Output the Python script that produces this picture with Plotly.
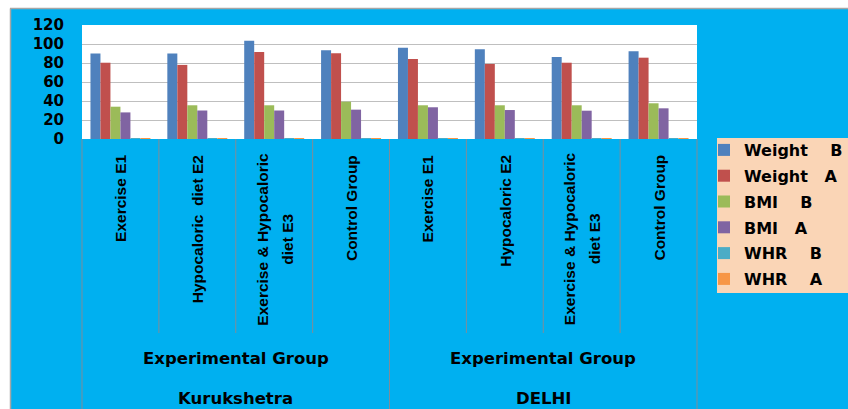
import plotly.graph_objects as go

categories = ["Exercise E1", "Hypocaloric  diet E2", "Exercise & Hypocaloric<br>diet E3", "Control Group",
              "Exercise E1", "Hypocaloric E2", "Exercise & Hypocaloric<br>diet E3", "Control Group"]
subgroups = ["Experimental Group", "Experimental Group"]
locations = ["Kurukshetra", "DELHI"]

S = "\u00a0"
series_names = ["Weight" + S * 4 + "B", "Weight" + S * 3 + "A", "BMI" + S * 4 + "B",
                "BMI" + S * 3 + "A", "WHR" + S * 4 + "B", "WHR" + S * 4 + "A"]
weight_b = [90, 90, 103.5, 93.3, 96, 94.4, 86.3, 92.3]
weight_a = [80.3, 78, 91.6, 90.2, 84.2, 79, 80.3, 85.6]
bmi_b = [34, 35.5, 35.5, 39.3, 35.5, 35.5, 35.5, 37.6]
bmi_a = [28, 30, 30, 30.9, 33.4, 30.5, 29.8, 32.3]
whr_b = [0.95, 0.93, 0.94, 0.92, 0.95, 0.93, 0.94, 0.92]
whr_a = [0.90, 0.88, 0.89, 0.91, 0.89, 0.88, 0.90, 0.91]
colors = ["#4F81BD", "#C0504D", "#9BBB59", "#8064A2", "#4BACC6", "#F79646"]

W, H = 848, 409
L, R, T, B = 82, 151, 25, 270
pw, ph = W - L - R, H - T - B

def px_x(p):
    return (p - L) / pw

def px_y(p):
    return (H - B - p) / ph

n = len(categories)
xs = list(range(n))
fig = go.Figure()
for name, vals, c in zip(series_names, [weight_b, weight_a, bmi_b, bmi_a, whr_b, whr_a], colors):
    fig.add_trace(go.Bar(x=xs, y=vals, name="<b>" + name + "</b>", marker_color=c, marker_line_width=0,
                         legendgroup=name))

shapes = []
# white strips at top and left, and frame lines
shapes.append(dict(type="rect", xref="paper", yref="paper", x0=px_x(-5), x1=px_x(W + 5),
                   y0=px_y(8.5), y1=px_y(-5), fillcolor="white", line_width=0, layer="below"))
shapes.append(dict(type="rect", xref="paper", yref="paper", x0=px_x(-5), x1=px_x(10),
                   y0=px_y(H + 5), y1=px_y(-5), fillcolor="white", line_width=0, layer="below"))
shapes.append(dict(type="line", xref="paper", yref="paper", x0=px_x(10), x1=px_x(W + 5),
                   y0=px_y(8.5), y1=px_y(8.5), line=dict(color="#A6A6A6", width=1.5)))
shapes.append(dict(type="line", xref="paper", yref="paper", x0=px_x(10.5), x1=px_x(10.5),
                   y0=px_y(8.5), y1=px_y(H + 5), line=dict(color="#A6A6A6", width=1.5)))
# legend box
shapes.append(dict(type="rect", xref="paper", yref="paper", x0=px_x(717), x1=px_x(W + 5),
                   y0=px_y(293), y1=px_y(138), fillcolor="#FAD5B6", line_width=0, layer="below"))

# category separators
for i in range(n + 1):
    xp = i / n
    outer = i in (0, n // 2, n)
    shapes.append(dict(type="line", xref="paper", yref="paper", x0=xp, x1=xp,
                       y0=0, y1=px_y(H + 5) if outer else px_y(333),
                       line=dict(color="#7F8C99", width=1)))

cat_font = dict(size=15.5, color="black", family="Liberation Sans, Arial")
annotations = []
for i, cat in enumerate(categories):
    lines = cat.split("<br>")
    k = len(lines)
    for j, ln in enumerate(lines):
        shift = (j - (k - 1) / 2) * 25
        if k == 1:
            yy, ya = px_y(153), "top"
        else:
            yy, ya = px_y(239), "middle"
        annotations.append(dict(x=i, xref="x", y=yy, yref="paper", text="<b>" + ln + "</b>",
                                textangle=-90, showarrow=False, xanchor="center", yanchor=ya,
                                xshift=shift, font=cat_font))
half = n // 2
grp_font = dict(size=16.5, color="black", family="DejaVu Sans")
for g in range(2):
    cx = g * half + (half - 1) / 2
    annotations.append(dict(x=cx, xref="x", y=px_y(358), yref="paper", text="<b>" + subgroups[g] + "</b>",
                            showarrow=False, xanchor="center", yanchor="middle", font=grp_font))
    annotations.append(dict(x=cx, xref="x", y=px_y(398), yref="paper", text="<b>" + locations[g] + "</b>",
                            showarrow=False, xanchor="center", yanchor="middle", font=grp_font))

fig.update_layout(
    width=W, height=H, margin=dict(l=L, r=R, t=T, b=B, pad=0, autoexpand=False),
    paper_bgcolor="#00B0F0", plot_bgcolor="white",
    barmode="group", bargap=0.22, bargroupgap=0,
    font=dict(family="DejaVu Sans", color="black"),
    xaxis=dict(range=[-0.5, n - 0.5], showticklabels=False, showgrid=False, zeroline=False,
               showline=False, ticks=""),
    yaxis=dict(range=[0, 120], dtick=20, tickfont=dict(size=15, color="black", family="DejaVu Sans"),
               showgrid=True, gridcolor="#BFBFBF", gridwidth=1, zeroline=False, showline=False,
               ticks="", ticklabelstandoff=17, tickprefix="<b>", ticksuffix="</b>"),
    legend=dict(x=px_x(704), xanchor="left", y=px_y(133), yanchor="top",
                bgcolor="rgba(0,0,0,0)", borderwidth=0, tracegroupgap=2, maxheight=400,
                font=dict(size=16, color="black", family="DejaVu Sans"),
                itemwidth=30),
    shapes=shapes, annotations=annotations, showlegend=True,
)
fig.write_html("out.html")
